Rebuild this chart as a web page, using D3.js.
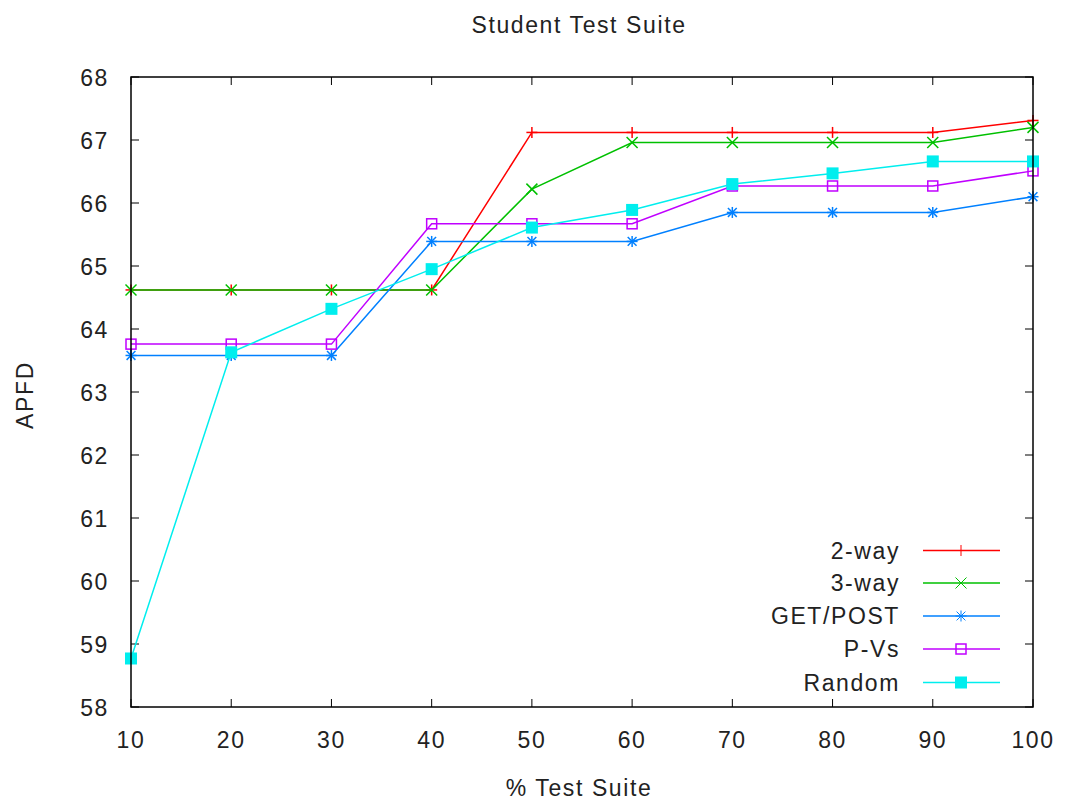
<!DOCTYPE html>
<html>
<head>
<meta charset="utf-8">
<script src="https://cdn.jsdelivr.net/npm/d3@7"></script>
<style>
  body { margin: 0; background: #fff; }
  text { font-family: "Liberation Sans", Arial, sans-serif; fill: #222; letter-spacing: 1.6px; }
</style>
</head>
<body>
<div id="chart"></div>
<script>
const xValues = [10, 20, 30, 40, 50, 60, 70, 80, 90, 100];
const yTicks = [58, 59, 60, 61, 62, 63, 64, 65, 66, 67, 68];
const seriesNames = ["2-way", "3-way", "GET/POST", "P-Vs", "Random"];
const twoWay = [64.62, 64.62, 64.62, 64.62, 67.12, 67.12, 67.12, 67.12, 67.12, 67.31];
const threeWay = [64.62, 64.62, 64.62, 64.62, 66.22, 66.96, 66.96, 66.96, 66.96, 67.2];
const getPost = [63.58, 63.58, 63.58, 65.39, 65.39, 65.39, 65.85, 65.85, 65.85, 66.1];
const pVs = [63.76, 63.76, 63.76, 65.67, 65.67, 65.67, 66.27, 66.27, 66.27, 66.51];
const random = [58.77, 63.63, 64.32, 64.95, 65.61, 65.89, 66.3, 66.47, 66.66, 66.66];

const colors = ["#ff0000", "#00c000", "#0080ff", "#c000ff", "#00eeee"];
const markers = ["plus", "cross", "star", "box", "fbox"];
const allSeries = [twoWay, threeWay, getPost, pVs, random];

const width = 1066, height = 802;
const margin = {left: 131, right: 33, top: 77, bottom: 95};
const fontSize = 23;

const svg = d3.select("#chart").append("svg")
    .attr("width", width)
    .attr("height", height);

const x = d3.scaleLinear().domain([10, 100]).range([margin.left, width - margin.right]);
const y = d3.scaleLinear().domain([58, 68]).range([height - margin.bottom, margin.top]);

// ticks on all four sides, pointing inward
const tickLen = 8;
const axes = svg.append("g").attr("stroke", "#000").attr("stroke-width", 1);
xValues.forEach(v => {
    axes.append("line").attr("x1", x(v)).attr("x2", x(v)).attr("y1", y(58)).attr("y2", y(58) - tickLen);
    axes.append("line").attr("x1", x(v)).attr("x2", x(v)).attr("y1", y(68)).attr("y2", y(68) + tickLen);
});
yTicks.forEach(v => {
    axes.append("line").attr("x1", x(10)).attr("x2", x(10) + tickLen).attr("y1", y(v)).attr("y2", y(v));
    axes.append("line").attr("x1", x(100)).attr("x2", x(100) - tickLen).attr("y1", y(v)).attr("y2", y(v));
});

svg.selectAll(".xlab").data(xValues).enter().append("text")
    .attr("x", d => x(d)).attr("y", y(58) + 41)
    .attr("text-anchor", "middle").attr("font-size", fontSize)
    .text(d => d);
svg.selectAll(".ylab").data(yTicks).enter().append("text")
    .attr("x", x(10) - 22).attr("y", d => y(d) + 8.5)
    .attr("text-anchor", "end").attr("font-size", fontSize)
    .text(d => d);

svg.append("text").attr("x", 579).attr("y", 33).attr("text-anchor", "middle")
    .attr("font-size", fontSize).text("Student Test Suite");
svg.append("text").attr("x", 579).attr("y", 796).attr("text-anchor", "middle")
    .attr("font-size", fontSize).text("% Test Suite");
svg.append("text").attr("transform", "translate(33," + 395 + ") rotate(-90)")
    .attr("text-anchor", "middle").attr("font-size", fontSize).text("APFD");

function drawMarker(g, type, cx, cy, color) {
    const s = 5.5;
    if (type === "plus" || type === "star") {
        g.append("line").attr("x1", cx - s).attr("x2", cx + s).attr("y1", cy).attr("y2", cy).attr("stroke", color);
        g.append("line").attr("x1", cx).attr("x2", cx).attr("y1", cy - s).attr("y2", cy + s).attr("stroke", color);
    }
    if (type === "cross" || type === "star") {
        const k = type === "star" ? s * 0.8 : s;
        g.append("line").attr("x1", cx - k).attr("x2", cx + k).attr("y1", cy - k).attr("y2", cy + k).attr("stroke", color);
        g.append("line").attr("x1", cx - k).attr("x2", cx + k).attr("y1", cy + k).attr("y2", cy - k).attr("stroke", color);
    }
    if (type === "box") {
        g.append("rect").attr("x", cx - 5).attr("y", cy - 5).attr("width", 10).attr("height", 10)
            .attr("fill", "none").attr("stroke", color).attr("stroke-width", 1.5);
    }
    if (type === "fbox") {
        g.append("rect").attr("x", cx - 6).attr("y", cy - 6).attr("width", 12).attr("height", 12)
            .attr("fill", color);
    }
}

const line = d3.line().x((d, i) => x(xValues[i])).y(d => y(d));

allSeries.forEach((vals, si) => {
    const g = svg.append("g").attr("stroke-width", 1.5);
    g.append("path").datum(vals).attr("d", line)
        .attr("fill", "none").attr("stroke", colors[si]).attr("stroke-width", 1.5);
    vals.forEach((v, i) => drawMarker(g, markers[si], x(xValues[i]), y(v), colors[si]));
});

// border on top of the lines
svg.append("rect").attr("x", x(10)).attr("y", y(68))
    .attr("width", x(100) - x(10)).attr("height", y(58) - y(68))
    .attr("fill", "none").attr("stroke", "#000").attr("stroke-width", 1.5);

// legend
const legendRows = [550.5, 583, 616, 649, 682.5];
seriesNames.forEach((name, i) => {
    const g = svg.append("g");
    g.append("text").attr("x", 900).attr("y", legendRows[i] + 8)
        .attr("text-anchor", "end").attr("font-size", fontSize).text(name);
    g.append("line").attr("x1", 923).attr("x2", 1000).attr("y1", legendRows[i]).attr("y2", legendRows[i])
        .attr("stroke", colors[i]).attr("stroke-width", 1.5);
    drawMarker(g, markers[i], 961, legendRows[i], colors[i]);
});
</script>
</body>
</html>
